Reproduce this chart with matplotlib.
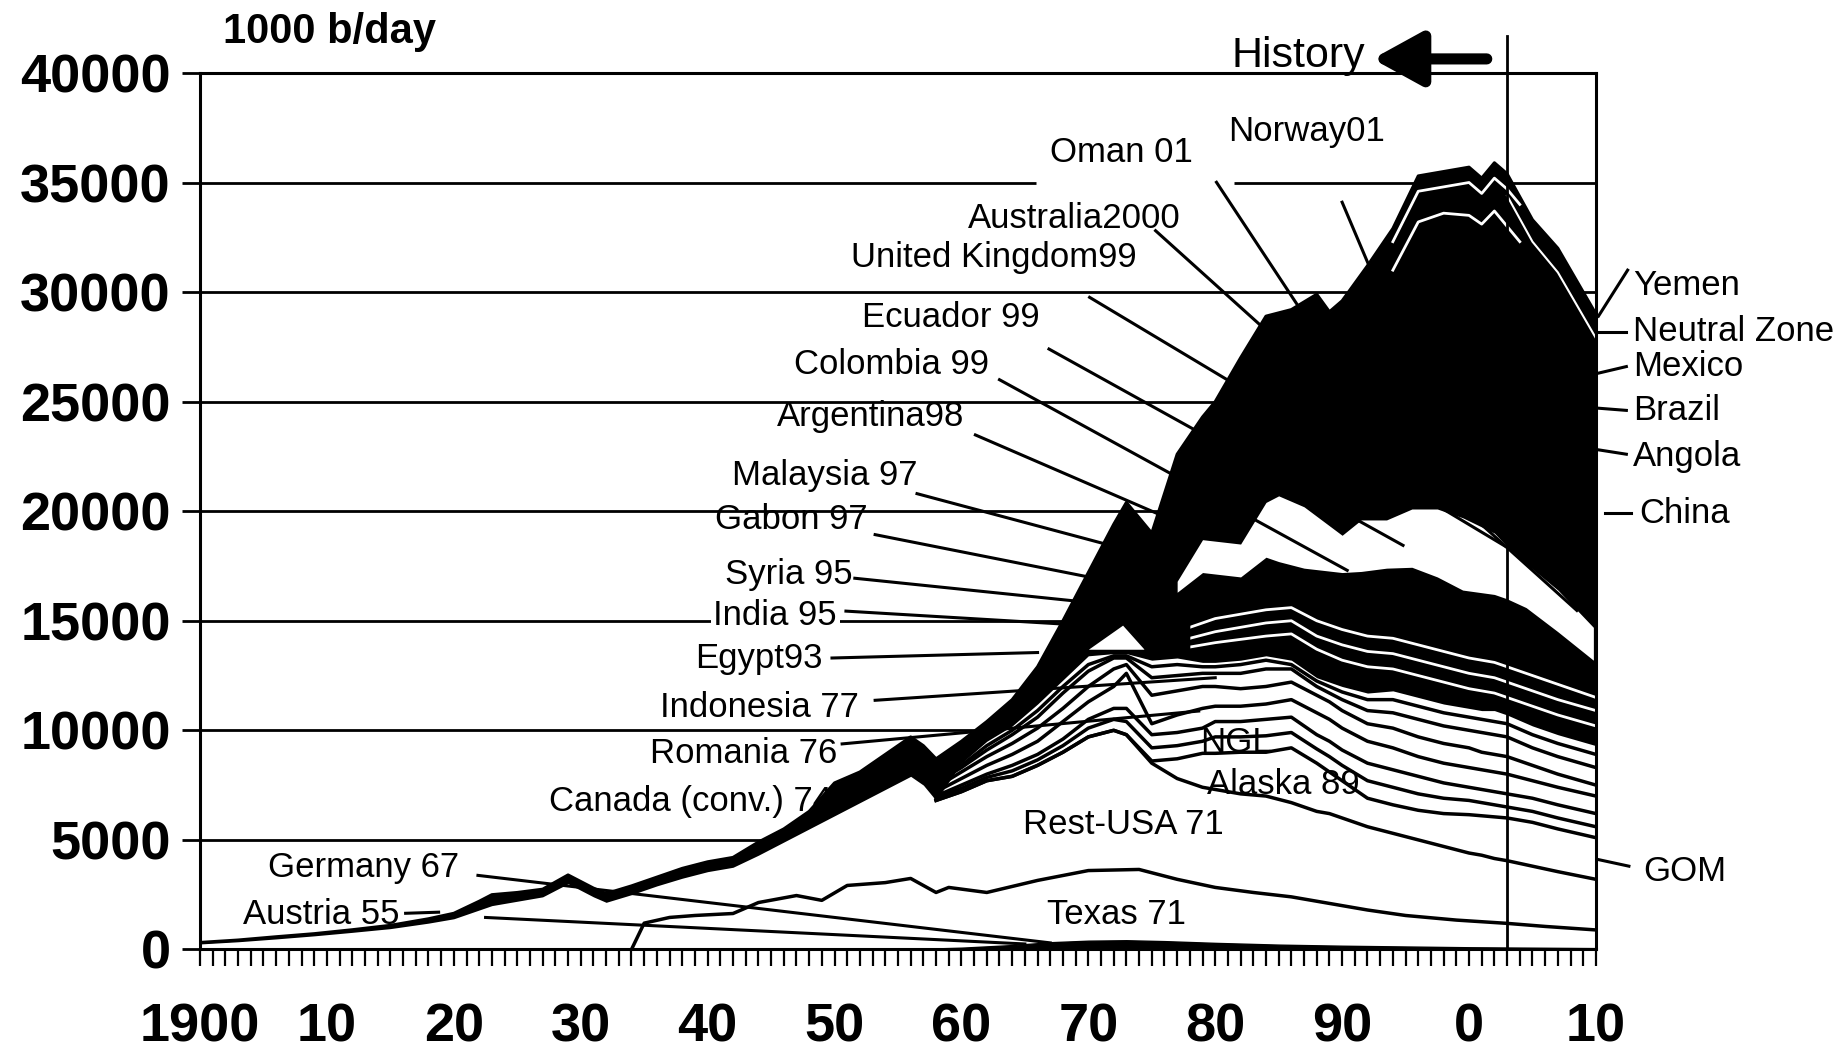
import matplotlib.pyplot as plt

FONT = ['Liberation Sans', 'DejaVu Sans']

# ---- values, 1000 b/day (cumulative tops) ----
# early years: the stack is one thin band
EARLY_YRS = [1900, 1903, 1906, 1909, 1912, 1915, 1918, 1920, 1922, 1923, 1925, 1927, 1929, 1931,
             1932, 1934, 1936, 1938, 1940, 1942, 1944, 1946, 1948, 1950, 1952, 1954, 1956, 1957, 1958]
BAND_TOP = [320, 430, 580, 720, 900, 1100, 1400, 1650, 2200, 2500, 2600, 2750, 3400, 2800,
            2550, 2900, 3300, 3700, 4000, 4200, 4900, 5500, 6300, 7600, 8100, 8900, 9700, 9300, 8700]
BAND_BOT = [250, 350, 480, 620, 780, 950, 1200, 1400, 1800, 2000, 2200, 2400, 3000, 2400,
            2150, 2500, 2900, 3250, 3550, 3750, 4300, 4900, 5500, 6100, 6700, 7300, 7900, 7500, 6800]

LATE_YRS = [1958, 1960, 1962, 1964, 1966, 1968, 1970, 1972, 1973, 1975, 1977, 1979, 1980, 1982, 1984,
            1986, 1988, 1989, 1990, 1992, 1994, 1996, 1998, 2000, 2001, 2002, 2003, 2005, 2007, 2010]
TOTAL = [8700, 9500, 10400, 11400, 12900, 15000, 17200, 19400, 20400, 19000, 22600, 24300, 25000, 27000, 28900,
         29200, 29900, 29100, 29600, 31200, 32900, 35300, 35500, 35700, 35200, 35900, 35400, 33300, 32000, 29000]
BLACK_LOW = [6800, 8500, 9500, 10200, 11200, 12300, 13400, 13500, 13500, 13200, 13300, 13100, 13100, 13200, 13400,
             13200, 12400, 12200, 12000, 11700, 11800, 11500, 11200, 11000, 10900, 10900, 10700, 10200, 9800, 9300]
REST_USA = [6800, 7200, 7700, 7900, 8400, 9000, 9700, 10000, 9800, 8500, 7800, 7400, 7300, 7100, 7000,
            6700, 6300, 6200, 6000, 5600, 5300, 5000, 4700, 4400, 4300, 4150, 4050, 3800, 3550, 3200]
ALASKA = [6800, 7200, 7700, 7900, 8400, 9000, 9700, 10000, 9800, 8600, 8700, 8950, 8950, 9000, 9000,
          9200, 8500, 8100, 7700, 6900, 6600, 6350, 6200, 6150, 6100, 6050, 6000, 5800, 5500, 5100]
CANADA = [6900, 7350, 7850, 8150, 8650, 9300, 10100, 10500, 10400, 9200, 9300, 9500, 9700, 9700, 9750,
          9900, 9150, 8800, 8400, 7700, 7400, 7100, 6900, 6800, 6700, 6600, 6500, 6300, 6000, 5600]
NGL = [7000, 7500, 8000, 8400, 8900, 9600, 10500, 11000, 11000, 9800, 9900, 10100, 10400, 10400, 10500,
       10600, 9800, 9500, 9100, 8500, 8200, 7900, 7600, 7400, 7300, 7200, 7100, 6900, 6600, 6200]
GOM = [7200, 7800, 8400, 8900, 9500, 10400, 11300, 12000, 12600, 10300, 10700, 11000, 11100, 11100, 11200,
       11400, 10800, 10500, 10100, 9500, 9200, 8800, 8500, 8300, 8200, 8100, 8000, 7700, 7400, 7000]
MID_A = [7400, 8100, 8800, 9400, 10100, 11000, 12000, 12800, 13000, 11600, 11800, 12000, 12000, 11900, 12000,
         12200, 11600, 11300, 10900, 10300, 10100, 9700, 9400, 9200, 9000, 8900, 8800, 8400, 8000, 7500]
MID_B = [7600, 8300, 9100, 9800, 10600, 11700, 12700, 13300, 13300, 12400, 12500, 12600, 12600, 12600, 12800,
         12800, 12000, 11700, 11400, 10900, 10800, 10500, 10200, 10000, 9900, 9800, 9700, 9200, 8800, 8300]
MID_C = [7700, 8400, 9300, 10000, 10900, 12000, 13000, 13400, 13400, 12900, 13000, 12900, 12900, 13000, 13200,
         13000, 12250, 12000, 11750, 11400, 11400, 11100, 10800, 10600, 10500, 10400, 10300, 9800, 9400, 8900]

# solid core of the black mass just after the 1973-75 dip
CORE_YRS = [1974.4, 1975, 1976, 1977, 1978]
CORE_LOW = [13350, 13250, 13300, 13350, 13300]
CORE_TOP = [17000, 18200, 18000, 16200, 16400]

TX_YRS = [1934, 1935, 1937, 1939, 1942, 1944, 1947, 1949, 1951, 1954, 1956, 1958, 1959, 1962,
          1966, 1970, 1974, 1977, 1980, 1983, 1986, 1989, 1992, 1995, 1999, 2003, 2006, 2010]
TEXAS = [0, 1200, 1460, 1550, 1640, 2140, 2460, 2240, 2920, 3050, 3240, 2600, 2830, 2600,
         3150, 3600, 3650, 3200, 2830, 2600, 2400, 2100, 1800, 1550, 1340, 1190, 1050, 890]

SMALL_YRS = [1955, 1960, 1964, 1967, 1970, 1973, 1976, 1980, 1985, 1990, 2000, 2010]
SMALL = [0, 80, 200, 330, 400, 420, 380, 300, 220, 170, 100, 60]

# white gap between the upper black block and the thick band
BOWL_YRS = [1977, 1979, 1982, 1984, 1985, 1987, 1990, 1991.5, 1993.5, 1995.5, 1997.5, 1999.5,
            2002, 2003, 2004.5, 2007, 2009.8]
BOWL_TOP = [16800, 18700, 18500, 20400, 20700, 20200, 18900, 19600, 19600, 20100, 20100, 19700,
            19000, 18400, 17600, 16400, 14700]
BOWL_BOT = [16300, 17200, 17000, 17900, 17700, 17400, 17200, 17250, 17400, 17440, 17000, 16400,
            16200, 16000, 15600, 14500, 13200]
TRI_YRS = [1970, 1972.7, 1974.4]
TRI_TOP = [13700, 14800, 13700]
TRI_BOT = [13700, 13700, 13700]

# white seams inside the black mass
STRIPE_YRS = [1978, 1980, 1984, 1986, 1988, 1990, 1992, 1994, 1996, 1998, 2000, 2002, 2003, 2005, 2007, 2010]
SEAM_1 = [14700, 15100, 15500, 15600, 15000, 14600, 14300, 14200, 13900, 13600, 13300, 13100, 12900, 12500, 12100, 11500]
SEAM_2 = [14200, 14500, 14900, 15000, 14300, 13900, 13600, 13500, 13200, 12900, 12600, 12400, 12200, 11800, 11400, 10900]
SEAM_3 = [13800, 14000, 14300, 14400, 13700, 13200, 12900, 12800, 12500, 12200, 11900, 11700, 11500, 11100, 10700, 10200]
TOPW_YRS = [1994, 1996, 1998, 2000, 2001, 2002, 2003, 2004]
TOP_SEAM_1 = [32300, 34600, 34800, 35000, 34500, 35200, 34700, 34000]
TOP_SEAM_2 = [31000, 33200, 33600, 33500, 33100, 33700, 33000, 32300]
SLOPE_YRS = [2003, 2005, 2007, 2010]
SLOPE_SEAM = [34400, 32300, 30900, 27900]

# labels: text, x (year), y (1000 b/day), alignment
LABELS = [
    ("Oman 01", 1978.2, 36350, "right"), ("Norway01", 1981.0, 37320, "left"),
    ("Australia2000", 1977.3, 33350, "right"), ("United Kingdom99", 1973.8, 31580, "right"),
    ("Ecuador 99", 1966.2, 28850, "right"), ("Colombia 99", 1962.2, 26700, "right"),
    ("Argentina98", 1960.2, 24340, "right"), ("Malaysia 97", 1956.5, 21610, "right"),
    ("Gabon 97", 1952.6, 19630, "right"), ("Syria 95", 1951.4, 17100, "right"),
    ("India 95", 1950.2, 15230, "right"), ("Egypt93", 1949.1, 13300, "right"),
    ("Indonesia 77", 1951.9, 11050, "right"), ("Romania 76", 1950.2, 8950, "right"),
    ("Canada (conv.) 74", 1949.8, 6760, "right"), ("Germany 67", 1920.4, 3750, "right"),
    ("Austria 55", 1915.7, 1610, "right"),
    ("Rest-USA 71", 1972.8, 5680, "center"), ("Texas 71", 1972.2, 1610, "center"),
    ("NGL", 1981.6, 9440, "center"), ("Alaska 89", 1985.4, 7510, "center"),
    ("Yemen", 2012.9, 30300, "left"), ("Neutral Zone", 2012.9, 28200, "left"),
    ("Mexico", 2012.9, 26600, "left"), ("Brazil", 2012.9, 24600, "left"),
    ("Angola", 2012.9, 22500, "left"), ("China", 2013.4, 19900, "left"),
    ("GOM", 2013.7, 3540, "left"),
]
LEADERS = [
    ((1980.1, 35010), (1989, 27200)), ((1990.0, 34100), (1993, 30000)),
    ((1975.3, 32800), (2008.5, 15470)), ((1970.1, 29760), (2003, 18350)),
    ((1966.9, 27400), (1994.8, 18440)), ((1963.0, 26000), (1990.4, 17300)),
    ((1961.1, 23480), (1979, 19000)), ((1956.5, 20800), (1972, 18400)),
    ((1953.2, 18930), (1970, 17000)), ((1951.6, 16940), (1969, 15900)),
    ((1950.9, 15440), (1968, 14850)), ((1949.8, 13300), (1966, 13550)),
    ((1953.2, 11370), (1980, 12400)), ((1950.6, 9380), (1978.7, 10880)),
    ((1921.9, 3380), (1967, 300)), ((1916.2, 1650), (1918.8, 1700)),
    ((1922.5, 1460), (1965, 250)),
    ((2010.2, 28900), (2012.5, 31000)), ((2010.2, 28200), (2012.4, 28200)),
    ((2010.2, 26300), (2012.4, 26600)), ((2010.2, 24700), (2012.4, 24600)),
    ((2010.2, 22800), (2012.4, 22600)), ((2010.7, 19900), (2012.8, 19900)),
    ((2010.2, 4100), (2012.6, 3800)),
]

fig = plt.figure(figsize=(18.42, 10.54), dpi=100)
ax = fig.add_axes([0.1086, 0.0992, 0.7578, 0.8316])
ax.set_xlim(1900, 2010)
ax.set_ylim(0, 40000)

# grid lines (hidden under the data)
for v in [5000, 10000, 15000, 20000, 25000, 30000]:
    ax.axhline(v, color='black', lw=2, zorder=1)
ax.hlines([35000, 35000], [1900, 1981.5], [1965.9, 2010], color='black', lw=2, zorder=1)

yrs_all = EARLY_YRS + LATE_YRS[1:]
top_all = BAND_TOP + TOTAL[1:]
low_all = BAND_BOT + BLACK_LOW[1:]
ax.fill_between(yrs_all, 0, top_all, color='white', lw=0, zorder=1.5)
ax.fill_between(yrs_all, low_all, top_all, color='black', lw=0, zorder=2)
ax.plot(yrs_all, top_all, color='black', lw=2.2, zorder=2)

ax.fill_between(BOWL_YRS, BOWL_BOT, BOWL_TOP, color='white', lw=0, zorder=3)
ax.fill_between(TRI_YRS, TRI_BOT, TRI_TOP, color='white', lw=0, zorder=3)
for s in [SEAM_1, SEAM_2, SEAM_3]:
    ax.plot(STRIPE_YRS, s, color='white', lw=2, zorder=4)
for s in [TOP_SEAM_1, TOP_SEAM_2]:
    ax.plot(TOPW_YRS, s, color='white', lw=2, zorder=4)
ax.plot(SLOPE_YRS, SLOPE_SEAM, color='white', lw=1.5, zorder=4)
ax.fill_between(CORE_YRS, CORE_LOW, CORE_TOP, color='black', lw=0, zorder=4.5)

for s in [REST_USA, ALASKA, CANADA, NGL, GOM, MID_A, MID_B, MID_C]:
    ax.plot(LATE_YRS, s, color='black', lw=2.5, zorder=5)
ax.plot(TX_YRS, TEXAS, color='black', lw=2.5, zorder=5)
ax.fill_between(SMALL_YRS, 0, SMALL, color='black', lw=1, zorder=5)

for (x0, y0), (x1, y1) in LEADERS:
    ax.plot([x0, x1], [y0, y1], color='black', lw=2.2, zorder=6, clip_on=False)
ax.plot([2003, 2003], [0, 41700], color='black', lw=2, zorder=6, clip_on=False)

for text, x, y, ha in LABELS:
    kw = {}
    if text == "India 95":
        kw['bbox'] = dict(facecolor='white', edgecolor='none', pad=2)
    ax.text(x, y, text, ha=ha, va='center', fontsize=25, family=FONT, zorder=7, **kw)

ax.text(1981.3, 40250, "History", ha='left', va='baseline', fontsize=31, family=FONT, zorder=7)
ax.annotate('', xy=(1992.4, 40640), xytext=(2001.4, 40640), annotation_clip=False,
            arrowprops=dict(arrowstyle='-|>,head_length=1.0,head_width=0.55', lw=8,
                            mutation_scale=30, color='black', shrinkA=0, shrinkB=0))
fig.text(223 / 1842, 1 - 32 / 1054, "1000 b/day", ha='left', va='center', fontsize=30,
         fontweight='bold', family=FONT)

# axes styling
for sp in ax.spines.values():
    sp.set_linewidth(2.2)
    sp.set_zorder(8)
ax.set_yticks(range(0, 40001, 5000))
ax.set_yticklabels([str(v) for v in range(0, 40001, 5000)])
ax.set_xticks(range(1900, 2011, 10))
ax.set_xticklabels(['1900', '10', '20', '30', '40', '50', '60', '70', '80', '90', '0', '10'])
ax.set_xticks(range(1900, 2011), minor=True)
ax.tick_params(axis='y', length=13, width=2, pad=8)
ax.tick_params(axis='x', which='both', length=12, width=1.6)
ax.tick_params(axis='x', which='major', pad=26)
for lab in ax.get_xticklabels() + ax.get_yticklabels():
    lab.set_family(FONT)
    lab.set_fontweight('bold')
    lab.set_fontsize(39)

fig.savefig('out.png', dpi=100)
